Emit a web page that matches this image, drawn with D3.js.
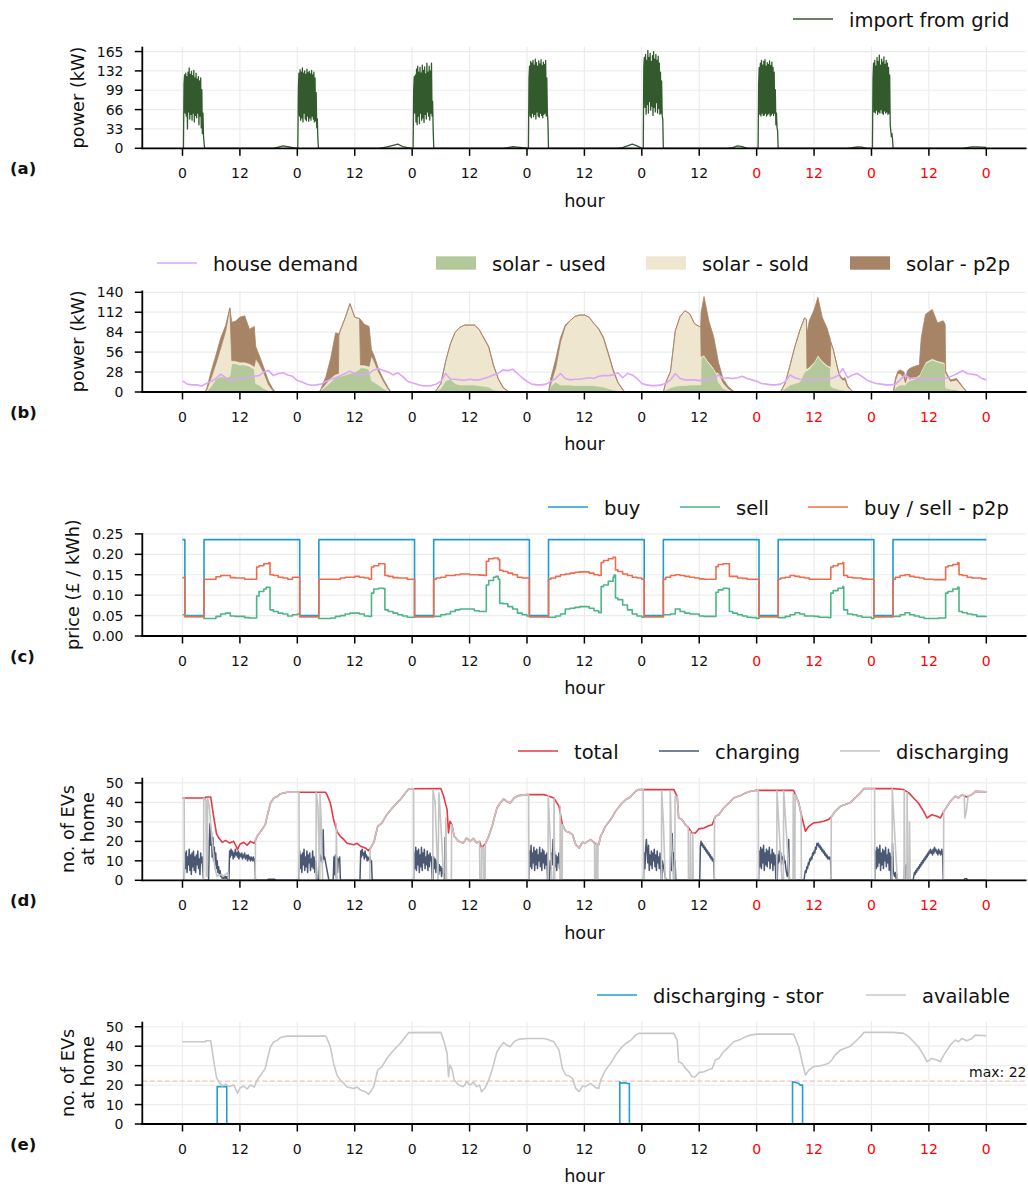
<!DOCTYPE html>
<html>
<head>
<meta charset="utf-8">
<script src="https://cdn.jsdelivr.net/npm/d3@7"></script>
<style>
  body { margin: 0; background: #fff; }
  svg text { font-family: "DejaVu Sans", sans-serif; }
</style>
</head>
<body>
<svg id="chart" width="1028" height="1186"></svg>
<script>
// ---------------- x axis (hours over one week) ----------------
const tickHours  = [0, 12, 24, 36, 48, 60, 72, 84, 96, 108, 120, 132, 144, 156, 168];
const tickLabels = ["0", "12", "0", "12", "0", "12", "0", "12", "0", "12", "0", "12", "0", "12", "0"];
const weekendTicks = [120, 132, 144, 156, 168];

// ---------------- (a) import from grid ----------------
const importTicks = [0, 33, 66, 99, 132, 165];
// hourly background import (h = 0..168)
const importBaseline = [
  0,0,0,0,0,0,0,0,0,0,0,0,0,0,0,0,0,0,0,0,2,4,3,1,
  0,0,0,0,0,0,0,0,0,0,0,0,0,0,0,0,0,0,1,3,5,7,3,1,
  0,0,0,0,0,0,0,0,0,0,0,0,0,0,0,0,0,0,0,0,1,3,2,1,
  0,0,0,0,0,0,0,0,0,0,0,0,0,0,0,0,0,0,0,0,1,4,7,4,
  0,0,0,0,0,0,0,0,0,0,0,0,0,0,0,0,0,0,0,1,4,3,0,0,
  0,0,0,0,0,0,0,0,0,0,0,0,0,0,0,0,0,0,0,0,1,2.5,2,0,
  0,0,0,0,0,0,0,0,0,0,0,0,0,0,0,0,0,0,0,0,1,2.5,2.5,2,
  1.5
];
// night-time charging bursts, sampled every `step` hours
const importBursts = [
  {start: 0.2,   step: 0.12, values: [0,110,125,60,128,55,122,33,130,62,137,50,126,58,131,48,124,60,133,45,120,56,128,52,118,60,122,40,115,55,120,35,100,25,60,20,8,0]},
  {start: 24.1,  step: 0.12, values: [0,100,128,55,134,48,130,52,137,45,128,60,132,50,126,47,135,55,129,46,131,52,127,48,133,55,125,50,130,45,120,47,95,35,50,15,0]},
  {start: 48.2,  step: 0.12, values: [0,100,122,60,125,45,135,40,140,55,130,42,138,60,128,48,142,52,133,44,139,58,127,50,145,62,130,55,140,48,132,60,145,55,80,30,0]},
  {start: 72.3,  step: 0.12, values: [0,120,140,55,148,52,145,60,150,54,142,58,152,50,146,62,140,55,149,53,144,60,151,56,141,52,147,58,143,60,150,55,120,60,45,0]},
  {start: 96.3,  step: 0.12, values: [0,140,155,70,160,58,150,75,167,60,155,80,162,65,148,72,158,56,165,70,152,62,160,78,150,60,157,68,145,58,130,60,115,55,50,0]},
  {start: 120.3, step: 0.12, values: [0,110,138,58,145,55,150,60,142,56,148,57,151,60,140,55,146,58,143,60,149,55,141,57,147,60,138,56,130,60,100,40,60,35,30,0]},
  {start: 144.2, step: 0.12, values: [0,120,145,62,150,60,140,65,155,58,148,62,159,60,142,66,152,60,147,58,156,64,143,60,150,62,145,58,138,60,125,40,30,20,25,15,0]}
];

// ---------------- (b) demand and solar ----------------
const powerTicks = [0, 28, 56, 84, 112, 140];
const houseDemand = [
  15.6,11,10,10,8.5,12,15,19,25,20,16,18,18,19,21,22,23,28,30,23,26,27,24,22,
  16,14,11,9.5,10,11,15,18,20,23,26,29,26,23,24,26,31,33,30,28,24,27,22,15,
  13,11,9,8.5,9,11,15,26,18,18,17,16.5,18,17,17,19,21,24,26,31,30,32,26,20,
  15,11,10,10,11,15,19,26,19,17,18,18,19,20,19,22,23,23,24,27,20,26,24,19,
  12,10,9,9,10,12,17,26,19,17,17,17,16,17,17,18,24,19,20,19,20,22,19,17,
  15,12,11,10,10,11,15,24,20,18,17,18,17,18,17,18,20,23,33,20,24,26,22,17,
  14,12,11,10,10,11,17,24,19,20,19,18,19,17,18,19,20,23,26,30,26,25,24,19,
  17
];
const solarHours = [
  0,
  4.5,5,6,7,8,9,9.9,10.3,11,12,13,14,15,15.3,16,17,18,19,19.5,
  28.6,29,30,31,32,32.6,32.7,33,34,35,36,37,37.2,38,39,39.5,40,41,42,43,43.6,
  52.8,53,54,55,56,57,58,59,60,61,62,63,64,65,66,67,68,68.5,
  76.5,77,78,79,80,81,82,83,84,85,86,87,88,89,90,91,92,92.5,
  100.5,101,102,103,104,105,106,107,108,108.3,108.4,109,110,111,111.6,112,113,114,115,115.5,
  125,126,127,128,129,130,130.4,130.5,131,132,132.8,133.7,134.7,135.4,135.5,136,137,137.5,138,138.5,139,140,140.5,
  148.6,149,149.5,150,150.8,151.1,151.5,152,153,154,154.4,155.3,156.7,157.8,159,159.4,159.5,160.5,161.8,163,164,
  168
];
const solarUsed = [
  0,
  0,0,8,18,22,20,22,40,40,38,38,36,32,12,10,5,2,0,0,
  0,2,8,14,20,22,22,22,24,26,28,32,34,34,32,16,14,10,5,1,0,
  0,1,5,16,18,12,10,10,10,10,9,8,7,3,2,1,0,0,
  0,8,14,10,10,10,9,9,9,9,9,8,7,5,3,1,0,0,
  0,3,6,8,9,9,10,10,10,10,48,50,40,32,25,14,5,2,0,0,
  0,5,10,12,14,28,30,30,32,40,50,42,36,34,8,6,4,3,3,2,1,0,0,
  0,6,8,10,10,10,14,16,18,22,28,40,45,42,40,38,6,4,3,1,0,
  0
];
const solarSold = [
  0,
  0,2,12,22,40,65,96,4,4,4,4,4,4,35,30,22,8,1,0,
  0,2,4,6,5,4,58,65,80,98,77,71,4,4,4,35,30,18,10,3,0,
  0,1,7,27,50,72,81,84,84,84,79,67,56,34,16,5,1,0,
  0,4,20,60,82,90,97,99,99,96,87,80,68,48,27,12,3,0,
  0,10,23,78,97,105,100,86,82,82,2,2,2,2,2,14,8,3,1,0,
  0,8,28,52,72,76,72,3,3,2,2,2,2,2,62,54,26,17,14,15,6,1,0,
  0,10,18,16,10,3,10,2,2,2,2,2,2,2,2,2,21,11,14,6,0,
  0
];
const solarP2p = [
  0,
  0,1,9,12,14,8,0,54,55,63,65,48,56,17,12,7,5,2,0,
  0,1,10,28,58,56,0,0,0,0,0,0,64,57,56,8,8,4,3,2,0,
  0,0,0,0,0,0,0,0,0,0,0,1,1,1,1,1,0,0,
  0,8,12,6,2,0,0,0,0,0,0,1,2,2,2,1,1,0,
  0,0,0,0,0,0,0,0,0,0,62,82,58,44,30,14,5,3,1,0,
  0,0,0,0,0,0,0,48,65,73,81,61,52,38,0,0,2,2,2,3,2,0,0,
  0,3,3,5,8,2,6,15,16,14,46,67,69,53,58,55,2,2,2,1,0,
  0
];

// ---------------- (c) prices, [hour, £/kWh] held until next point ----------------
const priceTicks = [0, 0.05, 0.10, 0.15, 0.20, 0.25];
const priceBuy = [
  [0,.236],[0.5,.05],[4.5,.236],[24.5,.05],[28.5,.236],[48.5,.05],[52.5,.236],[72.5,.05],[76.5,.236],
  [96.5,.05],[100.5,.236],[120.5,.05],[124.5,.236],[144.5,.05],[148.5,.236],[168,.236]
];
const priceSell = [
  [0,.052],[0.5,.048],[4.5,.043],[7,.048],[8,.054],[9,.056],[10,.049],[11,.048],[13,.045],[14,.044],
  [15.5,.098],[16,.109],[17,.115],[17.5,.119],[18.3,.064],[19,.06],[20,.056],[21,.054],[22,.049],[23,.052],[24,.054],
  [24.5,.047],[28.5,.043],[31,.044],[32,.048],[33,.05],[34,.054],[35,.056],[37,.054],[38,.049],[39,.048],
  [39.5,.105],[40,.115],[41,.117],[42,.116],[42.3,.064],[43,.06],[44,.056],[45,.052],[46,.049],[47,.046],
  [48.5,.047],[52.5,.048],[54,.052],[55,.054],[56,.06],[57,.064],[58,.066],[61,.062],[62,.06],
  [63.5,.125],[64,.136],[65,.144],[65.5,.146],[66,.139],[66.3,.08],[67,.079],[68,.072],[69,.066],[70,.056],[71,.052],[72,.049],
  [72.5,.047],[76.5,.046],[78,.049],[79,.054],[80,.066],[81,.068],[82,.07],[83,.072],[85,.068],[86,.062],[87,.057],
  [87.5,.121],[88,.125],[89,.134],[90,.144],[90.2,.149],[90.5,.093],[91,.089],[92,.076],[93,.064],[94,.054],[95,.049],[96,.046],
  [96.5,.047],[100.5,.052],[102,.054],[103,.066],[104,.06],[105,.056],[106,.054],[108,.049],[109,.048],
  [111.5,.107],[112,.113],[113,.117],[114,.116],[114.3,.06],[115,.056],[116,.052],[117,.049],[118,.046],[119,.045],[120,.043],
  [120.5,.047],[124.5,.045],[126,.048],[127,.052],[128,.057],[129,.054],[130,.049],[132,.048],[133,.046],[135,.045],
  [135.5,.105],[136,.111],[137,.117],[138,.121],[138.2,.064],[139,.054],[140,.052],[141,.049],[142,.046],[144,.043],
  [144.5,.047],[148.5,.048],[150,.052],[151,.057],[152,.052],[153,.049],[154,.046],[155,.043],[158,.044],
  [159.5,.105],[160,.109],[161,.115],[162,.119],[162.3,.06],[163,.057],[164,.054],[165,.052],[166,.048],[168,.049]
];
const priceP2p = [
  [0,.143],[0.5,.047],[4.5,.139],[7,.145],[8,.148],[10,.143],[11,.142],[13,.139],
  [15.5,.169],[16,.172],[17,.177],[18,.179],[18.3,.150],[19,.148],[20,.144],[21,.142],[22,.139],[23,.144],
  [24.5,.047],[28.5,.139],[33,.142],[34,.144],[36,.146],[37,.144],[38,.142],[39,.139],
  [39.5,.169],[40,.172],[41,.177],[42.3,.148],[43,.146],[44,.143],[45,.142],[47,.139],
  [48.5,.047],[52.5,.139],[53,.142],[54,.144],[55,.148],[57,.150],[58,.152],[60,.150],[62,.149],[63,.148],
  [63.5,.183],[64,.189],[65,.191],[66,.187],[66.3,.161],[67,.158],[68,.154],[69,.150],[70,.144],[71,.142],
  [72.5,.047],[76.5,.139],[77,.142],[78,.146],[79,.150],[80,.152],[81,.154],[82,.156],[83,.157],[85,.154],[86,.150],[87,.148],
  [87.5,.180],[88,.185],[89,.189],[90,.193],[90.5,.162],[91,.158],[92,.152],[93,.148],[94,.144],[95,.142],[96,.139],
  [96.5,.047],[100.5,.139],[101,.144],[102,.148],[103,.150],[104,.148],[105,.146],[106,.144],[107,.142],[108,.140],[109,.139],
  [111.5,.170],[112,.175],[113,.177],[114.3,.146],[116,.142],[117,.141],[118,.139],
  [120.5,.047],[124.5,.139],[125,.142],[126,.144],[127,.148],[128,.146],[129,.144],[130,.142],[131,.139],
  [135.5,.169],[136,.172],[137,.177],[138,.180],[138.2,.148],[139,.144],[140,.142],[142,.140],[143,.139],
  [144.5,.047],[148.5,.139],[149,.144],[150,.148],[151,.150],[152,.146],[153,.144],[154,.142],[155,.139],[157,.138],
  [159.5,.169],[160,.172],[161,.175],[162,.179],[162.3,.150],[163,.148],[164,.144],[165,.142],[167,.140],[168,.142]
];

// ---------------- (d)/(e) EV fleet, [hour, count] ----------------
const evTicks = [0, 10, 20, 30, 40, 50];
const evsAtHome = [
  [0,42.3],[4.8,42.3],[4.85,42.8],[5.9,42.8],[6.5,33],[7.1,24],[7.6,21.7],[8.3,19.5],[9,20.5],[9.8,19.2],[10.7,20],[11.2,17.5],[11.5,15.8],
  [12,18.5],[12.8,19.5],[13.5,18],[14.2,20],[15,19],[15.6,22.6],[16.6,26],[17.3,28.6],[17.7,33],[18.4,39.7],[19.1,42.3],[19.8,43],[20.5,44.5],
  [21.9,45.2],[29.9,45.2],[30.2,44],[30.9,39.7],[31.6,31],[32.3,25],[33,22.6],[33.7,21],[34.4,19],[35.8,18.3],[36.5,19],[37.2,17.5],[38.2,16.6],
  [38.9,15.2],[39.4,17],[40,19.5],[40.3,22.6],[40.8,27.7],[41.7,29.5],[42.7,33.7],[43.8,37],[44.8,39.7],[45.5,41.4],[46.6,44.9],[47.3,47],
  [54,47.1],[54.6,43],[55.3,36.3],[55.6,24.3],[55.9,30.3],[56.3,28.6],[56.8,22.6],[57.7,20],[58.7,19.2],[59.4,21.7],[60.1,20],[60.8,21.5],
  [61.5,19.2],[62.1,20],[62.5,16.6],[63.3,18.8],[64,22.6],[64.7,27.7],[65.7,37],[66.4,39.7],[67.1,41.8],[67.8,40.5],[68.5,39.7],[69.3,42.3],
  [70.2,43.5],[72,44],[75.5,44],[76.2,43.6],[77.6,42.3],[78.7,38],[79.4,28.6],[80.1,25.2],[80.8,24.7],[81.5,23.5],[82.2,18.3],[82.9,16.6],
  [83.6,19.5],[84.2,19.2],[85.3,20.9],[86.3,18.8],[87,18.3],[87.4,22.6],[88.4,27.7],[89.5,31.2],[90.5,35.4],[91.6,38.9],[92.6,41.4],[93.6,42.8],
  [94.7,45.7],[95.4,46.6],[102.7,46.6],[103.4,43],[103.7,32],[104.4,31.2],[105.1,28.6],[105.8,26.9],[106.5,24.3],[107.2,24.3],[107.9,26.4],
  [109,26.9],[110,28],[110.7,28.5],[111.4,32.9],[112.1,33.7],[113.1,37.2],[114.2,39.7],[115.2,42.3],[116.6,43.5],[117.7,44.9],[118.7,45.7],
  [120,46.2],[127.7,46.2],[128.1,44],[128.8,39.7],[129.5,32],[130.2,25.2],[130.9,27.7],[131.9,29.5],[133,29.8],[134,30.3],[135,31.2],
  [135.7,32.9],[136.4,35.4],[137.5,38],[138.5,38.9],[139.6,40],[140.6,42.3],[141.7,44.9],[142.4,47.1],[148.6,47.1],[150.7,46.6],[151.8,44.9],
  [152.8,42.3],[153.8,39.7],[154.9,35.4],[155.6,32],[156.6,33.7],[157.7,32.9],[158.4,32],[159.1,35.4],[159.8,38],[160.5,40.6],[161.5,43.2],
  [162.2,42.3],[162.9,44],[163.9,42.8],[165,44],[165.7,45.7],[168,45.4]
];
const evsDischarging = [
  [0,42.3],[0.35,42.3],[0.4,0],[4.4,0],[4.45,42.3],[4.9,41],[5.0,2],[5.2,2],[5.25,42],[5.6,38],[6.2,20],[6.8,6],[7.2,2],[8,3],[8.5,2],[9,3],
  [9.5,4],[9.6,0],[15.2,0],[15.25,21],[15.6,22.6],[16.6,26],[17.3,28.6],[17.7,33],[18.4,39.7],[19.1,42.3],[19.8,43],[20.5,44.5],[21.9,45.2],
  [24.35,45.2],[24.4,0],
  [27.9,0],[27.95,45],[28.3,38],[28.7,0],[28.75,44],[29.0,30],[29.3,0],[32.1,0],[32.15,29],[32.3,0],[39.15,0],[39.2,16],[39.4,17],[40,19.5],
  [40.3,22.6],[40.8,27.7],[41.7,29.5],[42.7,33.7],[43.8,37],[44.8,39.7],[45.5,41.4],[46.6,44.9],[47.3,47],[48.3,47],[48.35,0],
  [52.3,0],[52.35,46.5],[52.8,40],[53.4,0],[53.6,45],[54.2,20],[54.6,0],[55.0,0],[55.05,32],[55.2,0],[56.2,0],[56.25,28.6],[56.8,22.6],[57.7,20],
  [58.7,19.2],[59.4,21.7],[60.1,20],[60.8,21.5],[61.5,19.2],[62.1,20],[62.15,0],[62.5,0],[62.55,17],[62.9,17],[62.95,0],[63.25,0],[63.3,18.8],
  [64,22.6],[64.7,27.7],[65.7,37],[66.4,39.7],[67.1,41.8],[67.8,40.5],[68.5,39.7],[69.3,42.3],[70.2,43.5],[72,44],[72.35,44],[72.4,0],
  [76.4,0],[76.45,43.6],[76.7,30],[77.2,0],[77.6,0],[77.65,42],[77.8,0],[78.9,0],[78.95,38],[79.1,10],[79.2,0],[79.35,0],[79.4,28.6],[80.1,25.2],
  [80.8,24.7],[81.5,23.5],[82.2,18.3],[82.9,16.6],[83.6,19.5],[84.2,19.2],[85.3,20.9],[86.1,19],[86.15,0],[86.45,0],[86.5,19],[86.55,0],
  [86.8,0],[86.85,18.5],[87,18.3],[87.4,22.6],[88.4,27.7],[89.5,31.2],
  [90.5,35.4],[91.6,38.9],[92.6,41.4],[93.6,42.8],[94.7,45.7],[95.4,46.6],[96.3,46.6],[96.35,0],
  [100.1,0],[100.15,46],[100.5,30],[100.9,0],[101.9,0],[101.95,46],[102.2,20],[102.6,0],[102.9,0],[102.95,43],[103.4,43],[103.7,32],[104.4,31.2],
  [105.1,28.6],[105.7,27],[105.75,0],[106.1,0],[106.15,25],[106.25,0],[106.6,0],[106.65,24.3],[106.75,0],[111.15,0],[111.2,32.5],[111.4,32.9],
  [112.1,33.7],[113.1,37.2],[114.2,39.7],[115.2,42.3],[116.6,43.5],[117.7,44.9],[118.7,45.7],[120,46.2],[120.35,46.2],[120.4,0],
  [124.2,0],[124.25,46],[124.6,30],[125.3,0],[125.6,0],[125.65,46],[126.2,25],[126.9,0],[127.6,0],[127.65,45],[127.8,0],[128.0,0],[128.05,44],
  [128.8,39.7],[129.3,34],[129.35,0],[135.55,0],[135.6,32.5],[135.7,32.9],[136.4,35.4],[137.5,38],[138.5,38.9],[139.6,40],[140.6,42.3],
  [141.7,44.9],[142.4,47.1],[144.65,47.1],[144.7,0],
  [148.3,0],[148.35,47],[148.6,35],[149.4,0],[150.8,0],[150.85,46],[151.0,0],[151.4,0],[151.45,45],[151.6,0],[151.9,0],[151.95,30],[152.1,0],
  [159.05,0],[159.1,35.4],[159.8,38],[160.5,40.6],[161.5,43.2],[162.2,42.3],[162.9,44],[163.4,43.5],[163.5,32],[163.8,35],[164.2,43],
  [165,44],[165.7,45.7],[168,45.4]
];
// charging counts, sampled every `step` hours inside each active window
const evsChargingBursts = [
  {start: 0.35,  step: 0.15, values: [0,14,6,15,4,12,8,16,5,13,3,14,7,15,5,12,4,13,8,15,6,11,3,14,9,12,5,0]},
  {start: 5.45,  step: 0.15, values: [0,20,29,18,25,12,22,10,17,8,14,6,10,4,7,3,5,2,3,1,2,1,2,1,2,1,2,0]},
  {start: 9.7,   step: 0.15, values: [0,15,12,16,13,15,11,14,12,16,13,14,12,15,11,14,13,12,14,11,13,12,14,11,12,13,10,13,11,12,10,12,11,10,12,10,11,0]},
  {start: 17.7,  step: 0.3,  values: [0,0.6,0.6,0.6,0.6,0.6,0]},
  {start: 24.35, step: 0.15, values: [0,15,6,13,4,14,8,16,5,12,7,15,4,13,9,14,5,11,7,15,6,12,4,10,8,0]},
  {start: 28.5,  step: 0.15, values: [0,11,13,10,12,9,26,11,12,10,8,6,4,2,0]},
  {start: 31.5,  step: 0.15, values: [0,12,3,13,2,12,4,11,10,12,0]},
  {start: 37.1,  step: 0.15, values: [0,15,12,16,13,14,11,15,12,13,10,12,11,10,12,9,10,0]},
  {start: 48.3,  step: 0.15, values: [0,14,6,17,5,15,8,16,4,13,7,17,5,14,9,16,6,12,8,15,5,13,7,14,10,12,0]},
  {start: 52.35, step: 0.15, values: [0,12,6,11,4,10,7,9,3,8,5,7,2,6,4,3,1,0]},
  {start: 54.85, step: 0.05, values: [0,22,0]},
  {start: 72.4,  step: 0.15, values: [0,15,7,18,6,14,9,17,5,15,8,16,6,13,10,17,7,14,5,16,9,15,6,13,8,14,0]},
  {start: 76.7,  step: 0.15, values: [0,10,6,14,8,21,10,15,7,13,5,12,9,14,6,11,4,0]},
  {start: 96.35, step: 0.15, values: [0,14,6,16,21,15,9,18,5,13,8,15,6,14,10,16,7,13,5,15,9,12,6,14,8,0]},
  {start: 100.15,step: 0.15, values: [0,10,8,6,4,2,0]},
  {start: 101.9, step: 0.15, values: [0,12,5,24,8,14,3,10,0]},
  {start: 108.1, step: 0.14, values: [0,17,20,18,19,17,18,16,17,15,16,14,15,13,14,12,13,11,12,10,11,9,0]},
  {start: 120.4, step: 0.15, values: [0,15,7,17,6,16,9,18,5,14,8,16,7,15,10,17,6,13,9,16,5,14,8,13,0]},
  {start: 124.3, step: 0.15, values: [0,13,9,15,10,14,8,12,11,13,9,10,6,4,2,3,21,0]},
  {start: 129.9, step: 0.15, values: [0,3,5,4,7,6,9,8,11,10,12,11,14,13,15,14,17,16,19,18,19,17,18,16,17,15,16,14,15,13,14,12,13,11,12,11,12,10,0]},
  {start: 144.7, step: 0.15, values: [0,15,6,17,7,16,9,18,5,14,8,16,6,15,10,17,7,13,9,16,5,14,8,12,0]},
  {start: 148.1, step: 0.15, values: [0,4,19,5,3,2,4,1,3,0]},
  {start: 150.8, step: 0.15, values: [0,7,1,8,2,6,1,7,3,0]},
  {start: 152.7, step: 0.14, values: [0,2,4,3,5,4,6,5,7,6,8,7,9,8,10,9,11,10,12,11,13,12,14,13,15,14,16,14,15,13,16,14,17,15,16,14,15,13,16,14,15,13,14,16,13,0]},
  {start: 163.3, step: 0.2,  values: [0,0.8,0.8,0.8,0]}
];
const storageDischarging = [
  [0,0],[7.25,0],[7.25,19.2],[9.25,19.2],[9.25,0],[91.4,0],[91.4,21.7],[91.6,21],[92.5,21.2],[93.1,20.8],[93.4,20.8],[93.4,0],
  [127.5,0],[127.5,21.7],[128.2,21.3],[128.8,20.8],[129.1,20],[129.6,20],[129.6,0],[168,0]
];
const storageMax = 22;

// ---------------- colours ----------------
const C = {
  import: "#325a2d", demand: "#dba6f7", used: "#b4c999", sold: "#efe6cf", p2p: "#a88467",
  buy: "#1f9bcf", sell: "#4cb587", p2pPrice: "#ee6c4d",
  total: "#e63946", charging: "#4a5874", discharging: "#c4c4c4",
  stor: "#23a0c8", available: "#c8c8c8", maxLine: "#eec3b5",
  grid: "#ececec", ink: "#111111", weekend: "#ff0000"
};

// ---------------- helpers ----------------
function burstPoints(bursts) {
  return bursts.flatMap(b => b.values.map((v, i) => [b.start + i * b.step, v]));
}
function outsideBursts(h, bursts) {
  return !bursts.some(b => h >= b.start && h <= b.start + (b.values.length - 1) * b.step);
}

const svg = d3.select("#chart");
const X0 = 142.3, X1 = 1026.5;
const x = d3.scaleLinear().domain([-8.4, 176.4]).range([X0, X1]);

const panels = [
  { tag: "(a)", top: 46.7,  bottom: 148.3, yMax: 173.25, ticks: importTicks, fmt: d3.format("d"),
    ylabel: [["power (kW)", 83.5]], legendY: 19,
    legend: [{kind: "line", color: C.import, label: "import from grid", x: 793}] },
  { tag: "(b)", top: 290.5, bottom: 392,   yMax: 142.5, ticks: powerTicks, fmt: d3.format("d"),
    ylabel: [["power (kW)", 83.5]], legendY: 263,
    legend: [{kind: "line", color: C.demand, label: "house demand", x: 157},
             {kind: "patch", color: C.used, label: "solar - used", x: 436},
             {kind: "patch", color: C.sold, label: "solar - sold", x: 646},
             {kind: "patch", color: C.p2p, label: "solar - p2p", x: 850}] },
  { tag: "(c)", top: 533.3, bottom: 636,   yMax: 0.2515, ticks: priceTicks, fmt: d3.format(".2f"),
    ylabel: [["price (£ / kWh)", 78.5]], legendY: 507,
    legend: [{kind: "line", color: C.buy, label: "buy", x: 548},
             {kind: "line", color: C.sell, label: "sell", x: 680},
             {kind: "line", color: C.p2pPrice, label: "buy / sell - p2p", x: 808}] },
  { tag: "(d)", top: 777.7, bottom: 880.3, yMax: 52.7, ticks: evTicks, fmt: d3.format("d"),
    ylabel: [["no. of EVs", 73.5], ["at home", 94]], legendY: 751,
    legend: [{kind: "line", color: C.total, label: "total", x: 518},
             {kind: "line", color: C.charging, label: "charging", x: 659},
             {kind: "line", color: C.discharging, label: "discharging", x: 840}] },
  { tag: "(e)", top: 1021.7, bottom: 1124, yMax: 52.6, ticks: evTicks, fmt: d3.format("d"),
    ylabel: [["no. of EVs", 73.5], ["at home", 94]], legendY: 995,
    legend: [{kind: "line", color: C.stor, label: "discharging - stor", x: 597},
             {kind: "line", color: C.available, label: "available", x: 866}] }
];

function drawGrid(p, y) {
  const g = svg.append("g");
  g.selectAll(null).data(tickHours).join("line")
    .attr("x1", d => x(d)).attr("x2", d => x(d)).attr("y1", p.top).attr("y2", p.bottom)
    .attr("stroke", C.grid).attr("stroke-width", 1.2);
  g.selectAll(null).data(p.ticks).join("line")
    .attr("x1", X0).attr("x2", X1).attr("y1", d => y(d)).attr("y2", d => y(d))
    .attr("stroke", C.grid).attr("stroke-width", 1.2);
}

function drawFrame(p, y) {
  const g = svg.append("g");
  // spines
  g.append("line").attr("x1", X0).attr("x2", X0).attr("y1", p.top).attr("y2", p.bottom + 0.9)
    .attr("stroke", "#000").attr("stroke-width", 1.8);
  g.append("line").attr("x1", X0 - 0.9).attr("x2", X1).attr("y1", p.bottom).attr("y2", p.bottom)
    .attr("stroke", "#000").attr("stroke-width", 1.8);
  // x ticks
  g.selectAll(null).data(tickHours).join("line")
    .attr("x1", d => x(d)).attr("x2", d => x(d)).attr("y1", p.bottom).attr("y2", p.bottom + 7.5)
    .attr("stroke", "#000").attr("stroke-width", 1.5);
  g.selectAll(null).data(tickHours).join("text")
    .attr("x", d => x(d)).attr("y", p.bottom + 29.5).attr("text-anchor", "middle")
    .attr("font-size", 14).attr("fill", d => weekendTicks.includes(d) ? C.weekend : C.ink)
    .text((d, i) => tickLabels[i]);
  // y ticks
  g.selectAll(null).data(p.ticks).join("line")
    .attr("x1", X0 - 7.5).attr("x2", X0).attr("y1", d => y(d)).attr("y2", d => y(d))
    .attr("stroke", "#000").attr("stroke-width", 1.5);
  g.selectAll(null).data(p.ticks).join("text")
    .attr("x", 123.5).attr("y", d => y(d)).attr("dy", "0.36em").attr("text-anchor", "end")
    .attr("font-size", 14).attr("fill", C.ink).text(d => p.fmt(d));
  // axis titles
  const yc = (p.top + p.bottom) / 2;
  p.ylabel.forEach(([txt, bx]) => {
    g.append("text").attr("transform", `translate(${bx},${yc}) rotate(-90)`)
      .attr("text-anchor", "middle").attr("font-size", 17.7).attr("fill", C.ink).text(txt);
  });
  g.append("text").attr("x", (X0 + X1) / 2).attr("y", p.bottom + 58.3).attr("text-anchor", "middle")
    .attr("font-size", 17.7).attr("fill", C.ink).text("hour");
  g.append("text").attr("x", 10).attr("y", p.bottom + 26).attr("font-size", 16.5)
    .attr("font-weight", "bold").attr("fill", C.ink).text(p.tag);
  // legend
  const lg = svg.append("g");
  p.legend.forEach(item => {
    if (item.kind === "line") {
      lg.append("line").attr("x1", item.x).attr("x2", item.x + 40)
        .attr("y1", p.legendY).attr("y2", p.legendY)
        .attr("stroke", item.color).attr("stroke-width", 1.6);
    } else {
      lg.append("rect").attr("x", item.x).attr("y", p.legendY - 6.7)
        .attr("width", 40).attr("height", 13.4).attr("fill", item.color);
    }
    lg.append("text").attr("x", item.x + 56).attr("y", p.legendY + 7.6)
      .attr("font-size", 19.5).attr("fill", C.ink).text(item.label);
  });
}

function linePath(g, data, y, color, width, curve) {
  g.append("path").datum(data)
    .attr("d", d3.line().x(d => x(d[0])).y(d => y(d[1])).curve(curve || d3.curveLinear))
    .attr("fill", "none").attr("stroke", color).attr("stroke-width", width)
    .attr("stroke-linejoin", "round");
}

// ---------- (a) ----------
{
  const p = panels[0];
  const y = d3.scaleLinear().domain([0, p.yMax]).range([p.bottom, p.top]);
  drawGrid(p, y);
  const base = houseDemand.map((_, h) => [h, importBaseline[h]]).filter(d => outsideBursts(d[0], importBursts));
  const series = base.concat(burstPoints(importBursts)).sort((a, b) => a[0] - b[0]);
  linePath(svg.append("g"), series, y, C.import, 1.3);
  drawFrame(p, y);
}

// ---------- (b) ----------
{
  const p = panels[1];
  const y = d3.scaleLinear().domain([0, p.yMax]).range([p.bottom, p.top]);
  drawGrid(p, y);
  const rows = solarHours.map((h, i) => ({h, used: solarUsed[i], sold: solarSold[i], p2p: solarP2p[i]}));
  const keys = ["used", "sold", "p2p"];
  const stacked = d3.stack().keys(keys)(rows);
  const area = d3.area().x(d => x(d.data.h)).y0(d => y(d[0])).y1(d => y(d[1]));
  const g = svg.append("g");
  g.selectAll(null).data(stacked).join("path")
    .attr("d", area).attr("fill", d => C[d.key])
    .attr("stroke", d => C[d.key]).attr("stroke-width", 0.8).attr("stroke-linejoin", "round");
  linePath(g, houseDemand.map((v, h) => [h, v]), y, C.demand, 1.6);
  drawFrame(p, y);
}

// ---------- (c) ----------
{
  const p = panels[2];
  const y = d3.scaleLinear().domain([0, p.yMax]).range([p.bottom, p.top]);
  drawGrid(p, y);
  const g = svg.append("g");
  linePath(g, priceBuy, y, C.buy, 1.6, d3.curveStepAfter);
  linePath(g, priceSell, y, C.sell, 1.6, d3.curveStepAfter);
  linePath(g, priceP2p, y, C.p2pPrice, 1.6, d3.curveStepAfter);
  drawFrame(p, y);
}

// ---------- (d) ----------
{
  const p = panels[3];
  const y = d3.scaleLinear().domain([0, p.yMax]).range([p.bottom, p.top]);
  drawGrid(p, y);
  const g = svg.append("g");
  linePath(g, evsAtHome, y, C.total, 1.6);
  const charging = [[0, 0]].concat(burstPoints(evsChargingBursts), [[168, 0]]).sort((a, b) => a[0] - b[0]);
  linePath(g, charging, y, C.charging, 1.5);
  linePath(g, evsDischarging, y, C.discharging, 1.6);
  drawFrame(p, y);
}

// ---------- (e) ----------
{
  const p = panels[4];
  const y = d3.scaleLinear().domain([0, p.yMax]).range([p.bottom, p.top]);
  drawGrid(p, y);
  const g = svg.append("g");
  g.append("line").attr("x1", X0).attr("x2", X1).attr("y1", y(storageMax)).attr("y2", y(storageMax))
    .attr("stroke", C.maxLine).attr("stroke-width", 1.2).attr("stroke-dasharray", "5,2.5");
  g.append("text").attr("x", X1).attr("y", y(storageMax) - 4).attr("text-anchor", "end")
    .attr("font-size", 14).attr("fill", C.ink).text(`max: ${storageMax}`);
  linePath(g, storageDischarging, y, C.stor, 1.6);
  linePath(g, evsAtHome, y, C.available, 1.6);
  drawFrame(p, y);
}
</script>
</body>
</html>
